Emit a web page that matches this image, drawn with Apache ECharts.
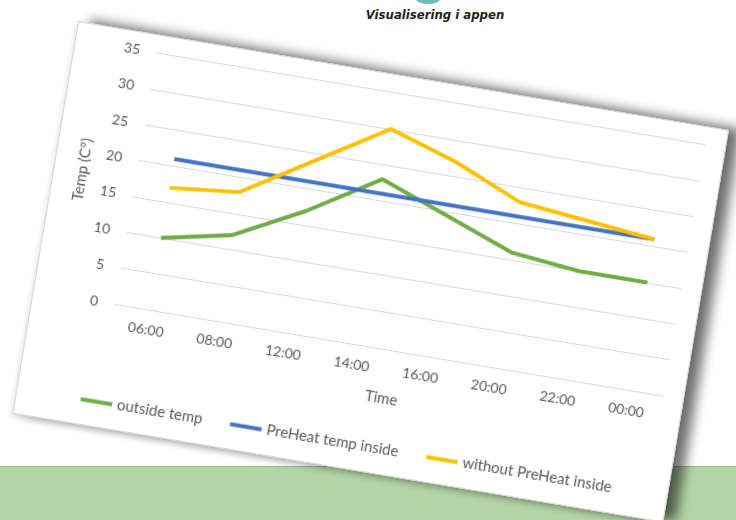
<!DOCTYPE html>
<html>
<head>
<meta charset="utf-8">
<script src="https://cdn.jsdelivr.net/npm/echarts@6/dist/echarts.min.js"></script>
<style>
  html, body { margin: 0; padding: 0; background: #ffffff; }
  #page { position: relative; width: 736px; height: 520px; overflow: hidden; background: #ffffff; }
  #band { position: absolute; left: 0; top: 466px; width: 736px; height: 60px; background: #b4d6a6; border-top: 1px solid #8fc27c; }
  #blob { position: absolute; left: 414px; top: -12px; width: 28px; height: 16px; border-radius: 50%; background: #6cbab3; }
  #caption { position: absolute; left: 340px; top: 7px; width: 190px; text-align: center; font-family: "Liberation Sans Narrow", "DejaVu Sans Condensed", sans-serif; font-weight: bold; font-style: italic; font-size: 13px; color: #1e1e1e; }
  #card { position: absolute; left: 78px; top: 21px; width: 660px; height: 398px; background: #ffffff; border: 1px solid #d4d4d4; box-sizing: border-box; transform-origin: 0 0; transform: rotate(9.5deg); box-shadow: 12px -3px 12px rgba(0,0,0,0.55), 0 3px 6px rgba(0,0,0,0.15); }
  #chart { position: absolute; left: -1px; top: -1px; width: 660px; height: 398px; }
</style>
</head>
<body>
<div id="page">
  <div id="blob"></div>
  <div id="caption">Visualisering i appen</div>
  <div id="band"></div>
  <div id="card"><div id="chart"></div></div>
</div>
<script>
var categories = ['06:00', '08:00', '12:00', '14:00', '16:00', '20:00', '22:00', '00:00'];
var outsideTemp = [10, 12, 17, 23, 19.5, 16, 15, 15];
var preHeatInside = [21, 21, 21, 21, 21, 21, 21, 21];
var withoutPreHeat = [17, 18, 24, 30, 27, 23, 22, 21];
var yTicks = { min: 0, max: 35, interval: 5 };

var font = 'Lato, "Open Sans", sans-serif';
var chart = echarts.init(document.getElementById('chart'), null, { renderer: 'canvas' });
chart.setOption({
  backgroundColor: 'transparent',
  animation: false,
  textStyle: { fontFamily: font },
  grid: { left: 83, top: 18.5, width: 556.5, height: 254.5, containLabel: false },
  legend: {
    left: 60, top: 360,
    icon: 'rect', itemWidth: 32, itemHeight: 4, itemGap: 28,
    textStyle: { color: '#595959', fontSize: 15, fontFamily: font },
    data: ['outside temp', 'PreHeat temp inside', 'without PreHeat inside']
  },
  xAxis: {
    type: 'category',
    data: categories,
    boundaryGap: true,
    name: 'Time', nameLocation: 'middle', nameGap: 42,
    nameTextStyle: { color: '#595959', fontSize: 15, fontFamily: font },
    axisLine: { show: true, lineStyle: { color: '#d9d9d9', width: 1 } },
    axisTick: { show: false },
    axisLabel: { color: '#595959', fontSize: 14, margin: 13, fontFamily: font }
  },
  yAxis: {
    type: 'value',
    min: yTicks.min, max: yTicks.max, interval: yTicks.interval,
    name: 'Temp (C°)', nameLocation: 'middle', nameGap: 46,
    nameTextStyle: { color: '#595959', fontSize: 15, fontFamily: font },
    axisLine: { show: false },
    axisTick: { show: false },
    axisLabel: { color: '#595959', fontSize: 14, margin: 17, fontFamily: font },
    splitLine: { lineStyle: { color: '#d9d9d9', width: 1 } }
  },
  series: [
    { name: 'outside temp', type: 'line', data: outsideTemp, symbol: 'none', itemStyle: { color: '#70ad47' }, lineStyle: { color: '#70ad47', width: 4 } },
    { name: 'PreHeat temp inside', type: 'line', data: preHeatInside, symbol: 'none', itemStyle: { color: '#4472c4' }, lineStyle: { color: '#4472c4', width: 4 } },
    { name: 'without PreHeat inside', type: 'line', data: withoutPreHeat, symbol: 'none', itemStyle: { color: '#ffc000' }, lineStyle: { color: '#ffc000', width: 4 } }
  ]
});
</script>
</body>
</html>
